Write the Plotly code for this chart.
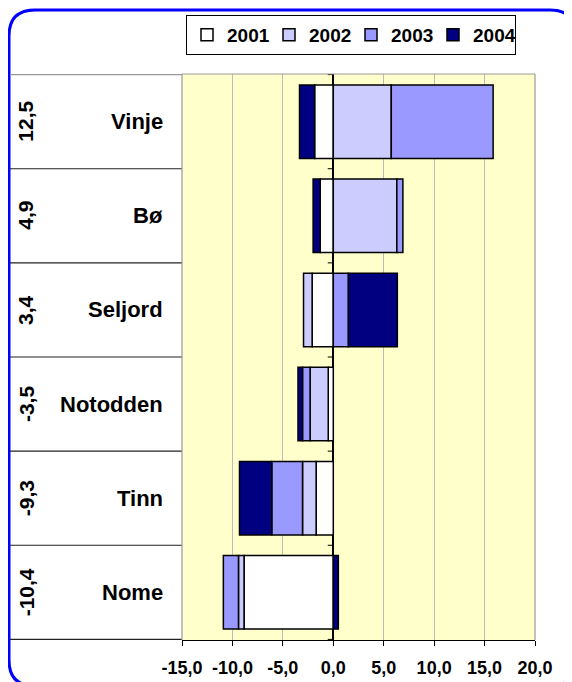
import plotly.graph_objects as go

categories = ["Vinje", "Bø", "Seljord", "Notodden", "Tinn", "Nome"]
totals = ["12,5", "4,9", "3,4", "-3,5", "-9,3", "-10,4"]
years = ["2001", "2002", "2003", "2004"]
v2001 = [-1.85, -1.3, -2.1, -0.5, -1.7, -8.85]
v2002 = [5.75, 6.3, -0.85, -1.8, -1.35, -0.55]
v2003 = [10.1, 0.6, 1.5, -0.75, -3.05, -1.5]
v2004 = [-1.5, -0.7, 4.85, -0.45, -3.2, 0.5]
tick_values = [-15, -10, -5, 0, 5, 10, 15, 20]
tick_labels = ["-15,0", "-10,0", "-5,0", "0,0", "5,0", "10,0", "15,0", "20,0"]
colors = ["#FFFFFF", "#CCCCFF", "#9999FF", "#000080"]
series = [v2001, v2002, v2003, v2004]

W, H = 572, 682
OFF = 8  # page body margin
# plot area in page pixels
L, R, T, B = 182, 535, 74, 640
pw, ph = R - L, B - T


def px(x):  # page x -> paper
    return (x - L) / pw


def py(y):  # page y -> paper
    return (B - y) / ph


FONT = "Liberation Sans, Arial, sans-serif"

fig = go.Figure()
for name, vals, c in zip(years, series, colors):
    fig.add_trace(go.Bar(
        y=categories, x=vals, name=name, orientation="h",
        marker=dict(color=c, line=dict(color="#000000", width=1.5)),
    ))

shapes = []
# rounded frame
x0, y0, x1, y1, r = 9, 10, 576, 686, 26
path = (f"M {px(x0)},{py(y0 + r)} "
        f"Q {px(x0)},{py(y0)} {px(x0 + r)},{py(y0)} "
        f"L {px(x1 - r)},{py(y0)} "
        f"Q {px(x1)},{py(y0)} {px(x1)},{py(y0 + r)} "
        f"L {px(x1)},{py(y1 - r)} "
        f"Q {px(x1)},{py(y1)} {px(x1 - r)},{py(y1)} "
        f"L {px(x0 + r)},{py(y1)} "
        f"Q {px(x0)},{py(y1)} {px(x0)},{py(y1 - r)} Z")
shapes.append(dict(type="path", xref="paper", yref="paper", path=path,
                   line=dict(color="#0000FF", width=3), layer="above"))
# table row lines and small ticks on the zero axis
n = len(categories)
for i in range(n + 1):
    yb = i - 0.5
    shapes.append(dict(type="line", xref="paper", yref="y",
                       x0=px(x0 + 1), x1=0, y0=yb, y1=yb,
                       line=dict(color="#222222" if i > 0 else "#999999", width=1.2)))
    shapes.append(dict(type="line", xref="x", yref="y",
                       x0=-0.55, x1=0, y0=yb, y1=yb,
                       line=dict(color="#000000", width=1)))
# plot border gray
for (a0, a1, b0, b1) in [(0, 1, 1, 1), (0, 0, 0, 1), (1, 1, 0, 1)]:
    shapes.append(dict(type="line", xref="paper", yref="paper",
                       x0=a0, x1=a1, y0=b0, y1=b1,
                       line=dict(color="#999999", width=1.2)))

annotations = []
for cat, tot in zip(categories, totals):
    annotations.append(dict(xref="paper", yref="y", x=px(165), y=cat,
                            text=cat, showarrow=False, xanchor="right",
                            yanchor="middle",
                            font=dict(family=FONT, size=22, color="#000000",
                                      weight="bold")))
    annotations.append(dict(xref="paper", yref="y", x=px(26), y=cat,
                            text=tot, showarrow=False, textangle=-90,
                            xanchor="center", yanchor="middle",
                            font=dict(family=FONT, size=21, color="#000000",
                                      weight="bold")))

fig.update_layout(
    width=W, height=H,
    margin=dict(l=L - OFF, r=W - R + OFF, t=T - OFF, b=H - B + OFF,
                autoexpand=False),
    barmode="relative", bargap=0.22,
    paper_bgcolor="#FFFFFF", plot_bgcolor="#FFFFCC",
    font=dict(family=FONT, color="#000000"),
    xaxis=dict(range=[-15, 20], tickmode="array", tickvals=tick_values,
               ticktext=tick_labels,
               showgrid=True, gridcolor="#BBBBBB", gridwidth=1,
               zeroline=True, zerolinecolor="#000000", zerolinewidth=1.5,
               showline=True, linecolor="#000000", linewidth=1.2,
               ticks="outside", ticklen=5, tickcolor="#000000",
               ticklabelstandoff=6,
               tickfont=dict(family=FONT, size=18, color="#000000",
                             weight="bold"),
               fixedrange=True),
    yaxis=dict(categoryorder="array", categoryarray=categories,
               autorange="reversed", showticklabels=False,
               showgrid=False, zeroline=False, fixedrange=True),
    legend=dict(orientation="h", x=px(186), xanchor="left",
                y=py(15), yanchor="top",
                bordercolor="#000000", borderwidth=1, bgcolor="#FFFFFF",
                font=dict(family=FONT, size=19, color="#000000", weight="bold"),
                itemwidth=30, entrywidth=37, traceorder="normal",
                tracegroupgap=0),
    shapes=shapes, annotations=annotations, showlegend=True,
)
fig.write_html("out.html")
